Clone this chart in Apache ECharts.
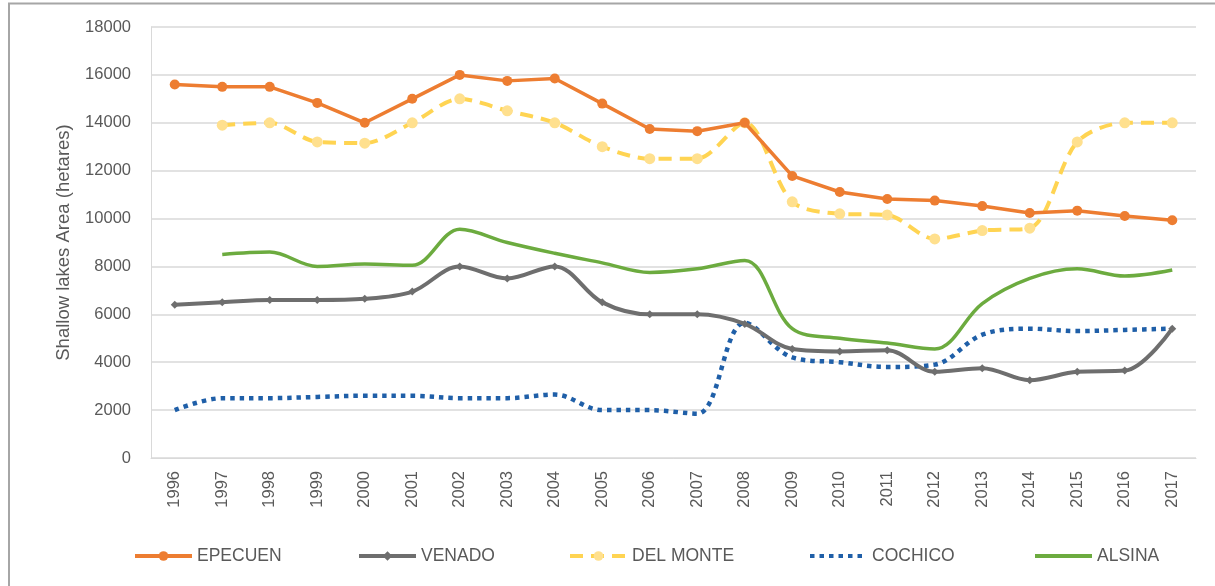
<!DOCTYPE html>
<html>
<head>
<meta charset="utf-8">
<title>Shallow lakes area</title>
<script src="https://cdn.jsdelivr.net/npm/echarts@6/dist/echarts.min.js"></script>
<style>
  html, body { margin: 0; padding: 0; background: #fff; }
  #chart { width: 1215px; height: 586px; }
</style>
</head>
<body>
<div id="chart"></div>
<script>
// -- Data --
const years = ['1996', '1997', '1998', '1999', '2000', '2001', '2002', '2003', '2004', '2005', '2006',
  '2007', '2008', '2009', '2010', '2011', '2012', '2013', '2014', '2015', '2016', '2017'];

const epecuen = [15600, 15500, 15500, 14830, 14000, 15000, 16000, 15750, 15850, 14800, 13740,
  13650, 14000, 11780, 11110, 10820, 10750, 10520, 10230, 10330, 10110, 9930];
const venado = [6400, 6500, 6600, 6600, 6650, 6950, 8000, 7500, 8000, 6500, 6000,
  6000, 5600, 4550, 4450, 4500, 3600, 3750, 3250, 3600, 3650, 5400];
const delMonte = [null, 13900, 14000, 13200, 13150, 14000, 15000, 14500, 14000, 13000, 12500,
  12500, 14000, 10700, 10200, 10150, 9150, 9500, 9600, 13200, 14000, 14000];
const cochico = [2000, 2500, 2500, 2550, 2600, 2600, 2500, 2500, 2650, 2000, 2000,
  1850, 5650, 4200, 4000, 3800, 3900, 5150, 5400, 5300, 5350, 5400];
const alsina = [null, 8500, 8600, 8000, 8100, 8050, 9550, 9000, 8550, 8150, 7750,
  7900, 8250, 5400, 5000, 4800, 4550, 6450, 7500, 7900, 7600, 7850];

const yTicks = { min: 0, max: 18000, interval: 2000 };

// -- Colors --
const COLORS = {
  epecuen: '#ED7D31',
  venado: '#6E6E6E',
  delMonte: '#FFD452',
  delMonteMark: '#FFE08E',
  cochico: '#1F5FA8',
  alsina: '#6CAB3F',
  text: '#595959',
  grid: '#D9D9D9'
};

const FONT = '"Liberation Sans", Arial, sans-serif';

// one legend per entry so each sits where Excel put it
const legendSlots = [
  ['EPECUEN', 128, true], ['VENADO', 352, true], ['DEL MONTE', 563, true],
  ['COCHICO', 803, false], ['ALSINA', 1028, false]
];

const chart = echarts.init(document.getElementById('chart'), null, { renderer: 'canvas' });

chart.setOption({
  backgroundColor: '#fff',
  animation: false,
  graphic: [{
    type: 'rect',
    shape: { x: 9, y: 3.5, width: 1400, height: 800 },
    style: { fill: 'none', stroke: '#A6A6A6', lineWidth: 2 },
    silent: true
  }],
  grid: { left: 151, right: 19, top: 27, bottom: 128 },
  legend: legendSlots.map(([name, left, marker]) => ({
    data: [marker ? name : { name: name, itemStyle: { opacity: 0 } }],
    left: left,
    top: 542,
    itemWidth: 57,
    itemHeight: 12,
    itemGap: 5,
    lineStyle: { width: 4 },
    textStyle: { color: COLORS.text, fontSize: 17.5, fontFamily: FONT }
  })),
  xAxis: {
    type: 'category',
    data: years,
    boundaryGap: true,
    axisLine: { lineStyle: { color: COLORS.grid, width: 1 } },
    axisTick: { show: false },
    axisLabel: {
      rotate: 90,
      margin: 13,
      color: COLORS.text,
      fontSize: 16.5,
      fontFamily: FONT,
      interval: 0
    }
  },
  yAxis: {
    type: 'value',
    min: yTicks.min,
    max: yTicks.max,
    interval: yTicks.interval,
    name: 'Shallow lakes Area (hetares)',
    nameLocation: 'middle',
    nameGap: 78,
    nameTextStyle: { color: COLORS.text, fontSize: 18.5, fontFamily: FONT },
    axisLine: { show: true, lineStyle: { color: COLORS.grid, width: 1 } },
    axisTick: { show: false },
    axisLabel: {
      margin: 20,
      color: COLORS.text,
      fontSize: 16.5,
      fontFamily: FONT,
      formatter: v => String(v)
    },
    splitLine: { lineStyle: { color: COLORS.grid, width: 1.5 } }
  },
  series: [
    {
      name: 'EPECUEN',
      type: 'line',
      data: epecuen,
      symbol: 'circle',
      symbolSize: 10,
      itemStyle: { color: COLORS.epecuen },
      lineStyle: { color: COLORS.epecuen, width: 3.5 },
      z: 5
    },
    {
      name: 'VENADO',
      type: 'line',
      data: venado,
      smooth: 0.35,
      symbol: 'diamond',
      symbolSize: 8,
      itemStyle: { color: COLORS.venado },
      lineStyle: { color: COLORS.venado, width: 4 },
      z: 3
    },
    {
      name: 'DEL MONTE',
      type: 'line',
      data: delMonte,
      smooth: 0.3,
      symbol: 'circle',
      symbolSize: 11,
      itemStyle: { color: COLORS.delMonteMark },
      lineStyle: { color: COLORS.delMonte, width: 4, type: [13, 8] },
      z: 4
    },
    {
      name: 'COCHICO',
      type: 'line',
      data: cochico,
      smooth: 0.35,
      symbol: 'none',
      itemStyle: { color: COLORS.cochico },
      lineStyle: { color: COLORS.cochico, width: 4.5, type: [4.5, 5], cap: 'butt' },
      z: 2
    },
    {
      name: 'ALSINA',
      type: 'line',
      data: alsina,
      smooth: 0.35,
      symbol: 'none',
      itemStyle: { color: COLORS.alsina },
      lineStyle: { color: COLORS.alsina, width: 3.5 },
      z: 2
    }
  ]
});

window.addEventListener('resize', () => chart.resize());
</script>
</body>
</html>
